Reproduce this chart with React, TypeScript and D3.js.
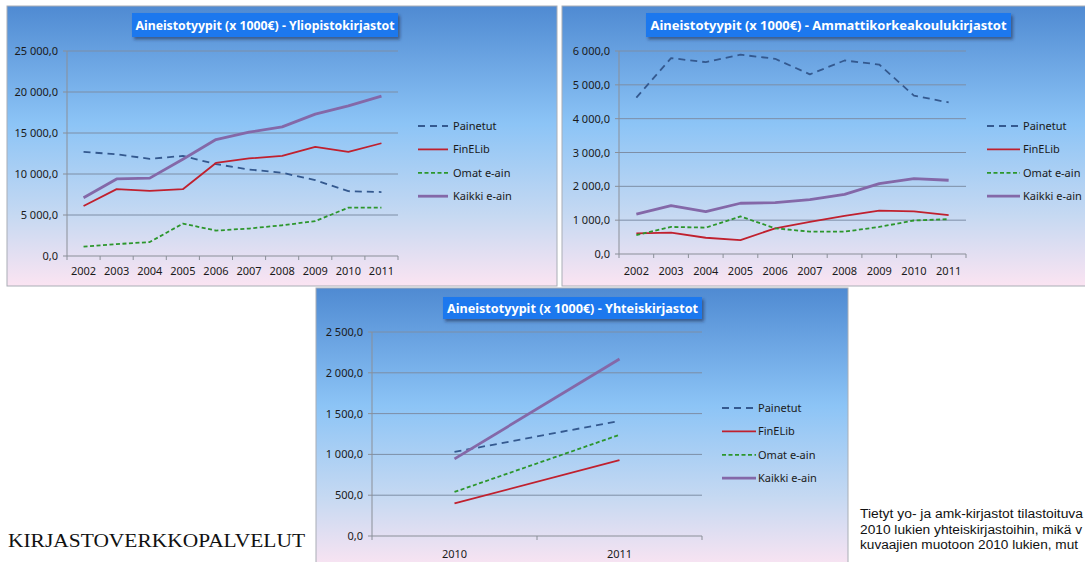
import React, { useRef, useEffect } from "react";
import * as d3 from "d3";

// --- data ---
const seriesNames = ["Painetut", "FinELib", "Omat e-ain", "Kaikki e-ain"];

const yoYears = ["2002", "2003", "2004", "2005", "2006", "2007", "2008", "2009", "2010", "2011"];
const yoPainetut = [12700, 12400, 11850, 12200, 11200, 10550, 10150, 9250, 7900, 7800];
const yoFinELib = [6100, 8150, 7950, 8150, 11350, 11900, 12200, 13300, 12700, 13750];
const yoOmat = [1150, 1450, 1700, 3950, 3100, 3350, 3750, 4250, 5900, 5900];
const yoKaikki = [7100, 9400, 9500, 11800, 14200, 15100, 15750, 17300, 18300, 19500];

const amkYears = ["2002", "2003", "2004", "2005", "2006", "2007", "2008", "2009", "2010", "2011"];
const amkPainetut = [4620, 5790, 5670, 5890, 5770, 5310, 5720, 5600, 4680, 4480];
const amkFinELib = [610, 630, 480, 410, 760, 950, 1130, 1280, 1260, 1150];
const amkOmat = [560, 800, 780, 1110, 760, 660, 660, 800, 990, 1030];
const amkKaikki = [1180, 1430, 1250, 1500, 1520, 1610, 1760, 2080, 2230, 2180];

const yhtYears = ["2010", "2011"];
const yhtPainetut = [1030, 1410];
const yhtFinELib = [400, 930];
const yhtOmat = [540, 1240];
const yhtKaikki = [945, 2170];

// the note is cut at the slide's right edge in the original
const noteLines = [
  "Tietyt yo- ja amk-kirjastot tilastoituva",
  "2010 lukien yhteiskirjastoihin, mikä v",
  "kuvaajien muotoon 2010 lukien, mut",
];
const noteWidths = [223, 222, 218];

const styles = [
  { color: "#34598f", width: 1.8, dash: "7,5" },
  { color: "#c0202e", width: 1.8, dash: null },
  { color: "#2c962c", width: 1.8, dash: "4,2.5" },
  { color: "#8468a8", width: 2.8, dash: null },
];

const locale = d3.formatLocale({ decimal: ",", thousands: " ", grouping: [3], currency: ["", "€"] });
const fmt = locale.format(",.1f");
const FONT = "'Noto Sans', sans-serif";

type Panel = {
  id: string;
  title: string;
  years: string[];
  series: number[][];
  yMax: number;
  step: number;
  box: { x: number; y: number; w: number; h: number };
  plot: { l: number; r: number; t: number; b: number };
  titleBox: { x: number; y: number; w: number; h: number; tw: number };
  legend: { x1: number; x2: number; tx: number; y0: number; dy: number };
  xLabelY: number;
};

const panels: Panel[] = [
  {
    id: "yo",
    title: "Aineistotyypit (x 1000€) - Yliopistokirjastot",
    years: yoYears,
    series: [yoPainetut, yoFinELib, yoOmat, yoKaikki],
    yMax: 25000,
    step: 5000,
    box: { x: 7, y: 6, w: 550, h: 280 },
    plot: { l: 67, r: 398, t: 51, b: 256 },
    titleBox: { x: 132, y: 13, w: 266, h: 24, tw: 259 },
    legend: { x1: 418, x2: 448, tx: 453, y0: 126, dy: 23.4 },
    xLabelY: 275,
  },
  {
    id: "amk",
    title: "Aineistotyypit (x 1000€) - Ammattikorkeakoulukirjastot",
    years: amkYears,
    series: [amkPainetut, amkFinELib, amkOmat, amkKaikki],
    yMax: 6000,
    step: 1000,
    box: { x: 562, y: 6, w: 530, h: 280 },
    plot: { l: 619, r: 966, t: 51, b: 254 },
    titleBox: { x: 646, y: 13, w: 365, h: 24, tw: 356 },
    legend: { x1: 987, x2: 1020, tx: 1023, y0: 126, dy: 23.4 },
    xLabelY: 275,
  },
  {
    id: "yht",
    title: "Aineistotyypit (x 1000€) - Yhteiskirjastot",
    years: yhtYears,
    series: [yhtPainetut, yhtFinELib, yhtOmat, yhtKaikki],
    yMax: 2500,
    step: 500,
    box: { x: 316, y: 288, w: 532, h: 280 },
    plot: { l: 372, r: 702, t: 332, b: 536 },
    titleBox: { x: 443, y: 297, w: 259, h: 22, tw: 251 },
    legend: { x1: 722, x2: 756, tx: 758, y0: 408, dy: 23.4 },
    xLabelY: 558,
  },
];

const App = () => {
  const divRef = useRef<HTMLDivElement>(null);

  useEffect(() => {
    d3.select(divRef.current).selectAll("*").remove();
    const svg = d3
      .select(divRef.current)
      .append("svg")
      .attr("width", 1085)
      .attr("height", 562)
      .style("display", "block");

    svg.append("rect").attr("width", 1085).attr("height", 562).attr("fill", "#ffffff");

    const defs = svg.append("defs");
    const grad = defs
      .append("linearGradient")
      .attr("id", "bg")
      .attr("x1", 0)
      .attr("y1", 0)
      .attr("x2", 0)
      .attr("y2", 1);
    grad.append("stop").attr("offset", 0).attr("stop-color", "#4f8ad2");
    grad.append("stop").attr("offset", 0.42).attr("stop-color", "#8cc4f6");
    grad.append("stop").attr("offset", 0.75).attr("stop-color", "#c6d9f2");
    grad.append("stop").attr("offset", 1).attr("stop-color", "#fbe4f2");

    const shadow = defs.append("filter").attr("id", "shadow").attr("x", -0.1).attr("y", -0.3).attr("width", 1.2).attr("height", 1.8);
    shadow
      .append("feDropShadow")
      .attr("dx", 2)
      .attr("dy", 2.5)
      .attr("stdDeviation", 1.5)
      .attr("flood-color", "#1a2a4a")
      .attr("flood-opacity", 0.55);

    panels.forEach((p) => {
      const g = svg.append("g").attr("class", p.id);
      g.append("rect")
        .attr("x", p.box.x)
        .attr("y", p.box.y)
        .attr("width", p.box.w)
        .attr("height", p.box.h)
        .attr("fill", "url(#bg)")
        .attr("stroke", "#a9aeb6")
        .attr("stroke-width", 1);

      const x = d3.scaleBand().domain(p.years).range([p.plot.l, p.plot.r]);
      const y = d3.scaleLinear().domain([0, p.yMax]).range([p.plot.b, p.plot.t]);
      const ticks = d3.range(0, p.yMax + 1, p.step);

      // gridlines
      g.selectAll(".grid")
        .data(ticks.filter((t) => t > 0))
        .join("line")
        .attr("x1", p.plot.l)
        .attr("x2", p.plot.r)
        .attr("y1", (d) => y(d))
        .attr("y2", (d) => y(d))
        .attr("stroke", "#7d8ea6")
        .attr("stroke-width", 1);

      // y axis
      g.append("line")
        .attr("x1", p.plot.l)
        .attr("x2", p.plot.l)
        .attr("y1", p.plot.t)
        .attr("y2", p.plot.b)
        .attr("stroke", "#8a8f98");
      g.selectAll(".ytick")
        .data(ticks)
        .join("line")
        .attr("x1", p.plot.l - 4)
        .attr("x2", p.plot.l)
        .attr("y1", (d) => y(d))
        .attr("y2", (d) => y(d))
        .attr("stroke", "#8a8f98");
      g.selectAll(".ylab")
        .data(ticks)
        .join("text")
        .attr("x", p.plot.l - 9)
        .attr("y", (d) => y(d) + 4)
        .attr("text-anchor", "end")
        .attr("font-family", FONT)
        .attr("font-size", 11)
        .attr("fill", "#1a1a1a")
        .text((d) => fmt(d));

      // x axis
      g.append("line")
        .attr("x1", p.plot.l)
        .attr("x2", p.plot.r)
        .attr("y1", p.plot.b)
        .attr("y2", p.plot.b)
        .attr("stroke", "#8a8f98");
      const bounds = p.years.map((d) => x(d) as number).concat([p.plot.r]);
      g.selectAll(".xtick")
        .data(bounds)
        .join("line")
        .attr("x1", (d) => d)
        .attr("x2", (d) => d)
        .attr("y1", p.plot.b)
        .attr("y2", p.plot.b + 4)
        .attr("stroke", "#8a8f98");
      g.selectAll(".xlab")
        .data(p.years)
        .join("text")
        .attr("x", (d) => (x(d) as number) + x.bandwidth() / 2)
        .attr("y", p.xLabelY)
        .attr("text-anchor", "middle")
        .attr("font-family", FONT)
        .attr("font-size", 11)
        .attr("fill", "#1a1a1a")
        .text((d) => d);

      // series
      const line = d3
        .line<number>()
        .x((_, i) => (x(p.years[i]) as number) + x.bandwidth() / 2)
        .y((d) => y(d));
      p.series.forEach((vals, i) => {
        const s = styles[i];
        g.append("path")
          .attr("d", line(vals))
          .attr("fill", "none")
          .attr("stroke", s.color)
          .attr("stroke-width", s.width)
          .attr("stroke-dasharray", s.dash)
          .attr("stroke-linejoin", "round");
      });

      // legend
      seriesNames.forEach((name, i) => {
        const s = styles[i];
        const ly = p.legend.y0 + i * p.legend.dy;
        g.append("line")
          .attr("x1", p.legend.x1)
          .attr("x2", p.legend.x2)
          .attr("y1", ly)
          .attr("y2", ly)
          .attr("stroke", s.color)
          .attr("stroke-width", s.width)
          .attr("stroke-dasharray", s.dash);
        g.append("text")
          .attr("x", p.legend.tx)
          .attr("y", ly + 4)
          .attr("font-family", FONT)
          .attr("font-size", 11)
          .attr("fill", "#1a1a1a")
          .text(name);
      });

      // title
      g.append("rect")
        .attr("x", p.titleBox.x)
        .attr("y", p.titleBox.y)
        .attr("width", p.titleBox.w)
        .attr("height", p.titleBox.h)
        .attr("fill", "#1b78ee")
        .attr("filter", "url(#shadow)");
      g.append("text")
        .attr("x", p.titleBox.x + p.titleBox.w / 2)
        .attr("y", p.titleBox.y + p.titleBox.h / 2 + 4.5)
        .attr("text-anchor", "middle")
        .attr("font-family", FONT)
        .attr("font-weight", "bold")
        .attr("font-size", 12.5)
        .attr("fill", "#ffffff")
        .attr("textLength", p.titleBox.tw)
        .attr("lengthAdjust", "spacingAndGlyphs")
        .text(p.title);
    });

    // slide texts
    svg.append("text")
      .attr("x", 8)
      .attr("y", 547)
      .attr("font-family", "'Liberation Serif', serif")
      .attr("font-size", 19)
      .attr("fill", "#111111")
      .attr("textLength", 297)
      .attr("lengthAdjust", "spacingAndGlyphs")
      .text("KIRJASTOVERKKOPALVELUT");

    svg.selectAll(".note")
      .data(noteLines)
      .join("text")
      .attr("x", 860)
      .attr("y", (_, i) => 518 + i * 15.5)
      .attr("font-family", "'Liberation Sans', Arial, sans-serif")
      .attr("font-size", 12.5)
      .attr("fill", "#111111")
      .attr("textLength", (_, i) => noteWidths[i])
      .attr("lengthAdjust", "spacingAndGlyphs")
      .text((d) => d);
  }, []);

  return (
    <div
      id="slide-charts"
      ref={divRef}
      style={{ position: "absolute", left: 0, top: 0, width: 1085, height: 562, overflow: "hidden" }}
    ></div>
  );
};

export default App;
